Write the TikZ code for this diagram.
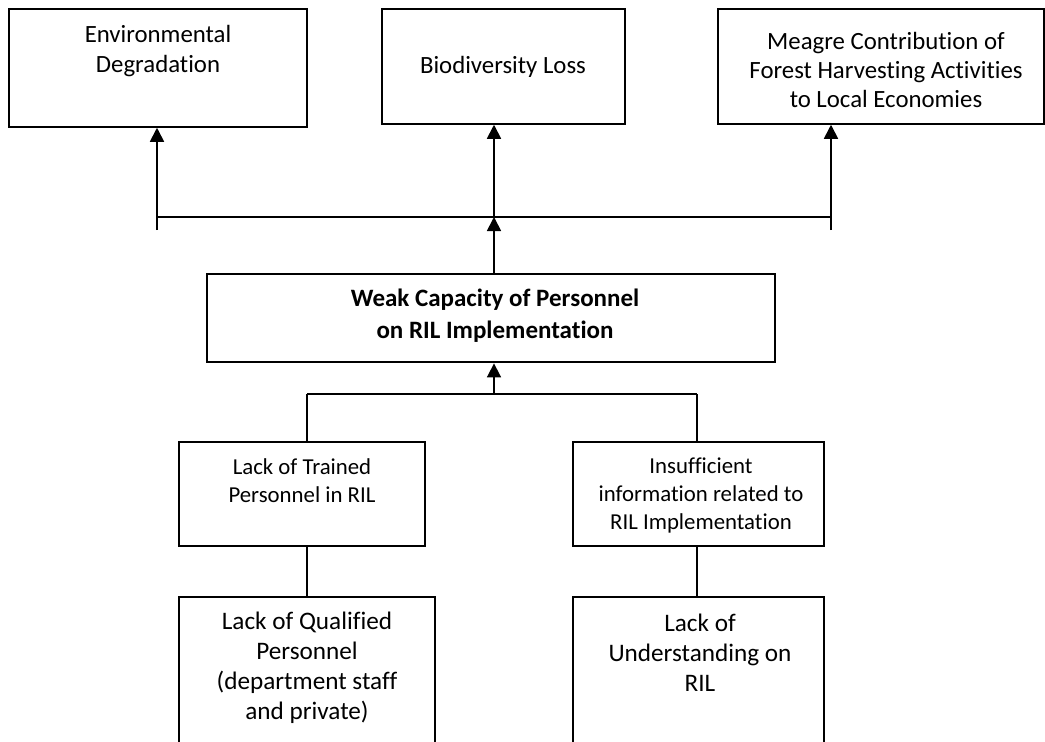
\documentclass[tikz,border=0pt]{standalone}
\usepackage{fontspec}
\setmainfont{Carlito}[Ligatures=NoCommon]
\usetikzlibrary{arrows.meta}
\begin{document}
\begin{tikzpicture}[x=1pt,y=-1pt,
  box/.style={draw=black, line width=1.5pt, rectangle, inner sep=0pt, fill=white},
  mainbox/.style={box, line width=2.8pt},
  txt/.style={align=center, inner sep=0pt, text=black},
  toptxt/.style={txt, font=\fontsize{24.8}{29}\selectfont},
  midtxt/.style={txt, font=\fontsize{22.8}{28}\selectfont},
  lowtxt/.style={txt, font=\fontsize{25.2}{30}\selectfont},
  boldtxt/.style={txt, font=\fontsize{25}{32}\selectfont\bfseries},
  conn/.style={draw=black, line width=1.7pt},
  arr/.style={conn, -{Triangle[length=14pt,width=14pt]}}
]
\useasboundingbox (0,0) rectangle (1045,742);
\fill[white] (0,0) rectangle (1045,742);

% top boxes
\node[box, minimum width=298, minimum height=118] (env) at (158,68) {};
\node[toptxt, font=\fontsize{24.8}{30}\selectfont] (envt) at (158,51) {Environmental\\Degradation};
\node[box, minimum width=243, minimum height=115] (bio) at (503.5,66.5) {};
\node[toptxt] (biot) at (503,67) {Biodiversity Loss};
\node[box, minimum width=326, minimum height=115] (mea) at (881,66.5) {};
\node[toptxt] (meat) at (886,70) {Meagre Contribution of\\Forest Harvesting Activities\\to Local Economies};

% central box
\node[mainbox, minimum width=568, minimum height=88] (weak) at (491,318) {};
\node[boldtxt] (weakt) at (495,316) {Weak Capacity of Personnel\\on RIL Implementation};

% middle boxes
\node[box, minimum width=246, minimum height=104] (ltp) at (302,494) {};
\node[midtxt] (ltpt) at (302,481) {Lack of Trained\\Personnel in RIL};
\node[box, minimum width=251, minimum height=104] (ins) at (698.5,494) {};
\node[midtxt] (inst) at (701,495) {Insufficient\\information related to\\RIL Implementation};

% lower boxes (run past the bottom edge)
\node[box, minimum width=256, minimum height=170] (lqp) at (307,682) {};
\node[lowtxt] (lqpt) at (307,668) {Lack of Qualified\\Personnel\\(department staff\\and private)};
\node[box, minimum width=251, minimum height=170] (luo) at (698.5,682) {};
\node[lowtxt] (luot) at (700,653) {Lack of\\Understanding on\\RIL};

% upper junction
\coordinate (jl) at (157,217);
\coordinate (jr) at (831,217);
\coordinate (jlb) at (157,230);
\coordinate (jrb) at (831,230);
\coordinate (jm) at (494,217);
\draw[conn] (jl) -- (jr);
\draw[arr] (jlb) -- (jlb |- env.south);
\draw[arr] (jrb) -- (jrb |- mea.south);
\draw[arr] (jm) -- (jm |- bio.south);
\draw[arr] (jm |- weak.north) -- (jm);

% lower junction
\coordinate (kl) at (307,394);
\coordinate (kr) at (697,394);
\coordinate (km) at (494,394);
\draw[conn] (kl) -- (kr);
\draw[arr] (km) -- (km |- weak.south);
\draw[conn] (kl) -- (kl |- ltp.north);
\draw[conn] (kr) -- (kr |- ins.north);
\draw[conn] (kl |- ltp.south) -- (kl |- lqp.north);
\draw[conn] (kr |- ins.south) -- (kr |- luo.north);
\end{tikzpicture}
\end{document}
